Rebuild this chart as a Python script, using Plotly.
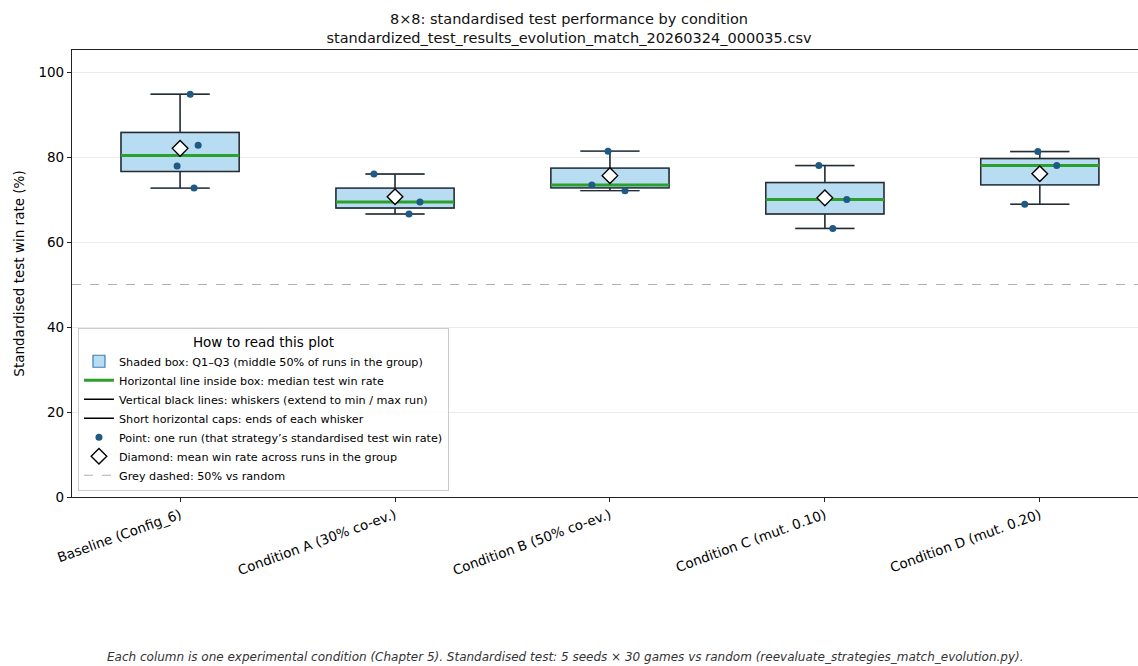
import numpy as np
import plotly.graph_objects as go

# Experimental conditions and the standardised test win rate (%) of each run
categories = [
    "Baseline (Config_6)",
    "Condition A (30% co-ev.)",
    "Condition B (50% co-ev.)",
    "Condition C (mut. 0.10)",
    "Condition D (mut. 0.20)",
]
baseline_runs = [94.8, 82.8, 77.9, 72.7]
cond_a_runs = [76.0, 69.4, 66.6]
cond_b_runs = [81.4, 73.4, 72.1]
cond_c_runs = [78.0, 70.0, 63.2]
cond_d_runs = [81.3, 78.0, 68.9]
runs = [baseline_runs, cond_a_runs, cond_b_runs, cond_c_runs, cond_d_runs]
y_ticks = [0, 20, 40, 60, 80, 100]
random_level = 50

# Horizontal jitter (in category units) used to spread the run points
jitter = [
    [0.047, 0.084, -0.014, 0.065],
    [-0.098, 0.116, 0.065],
    [-0.009, -0.084, 0.070],
    [-0.028, 0.102, 0.037],
    [-0.009, 0.079, -0.070],
]

BOX_W = 0.55
HALF = BOX_W / 2
FONT = "DejaVu Sans"

pos = list(range(len(categories)))
q1 = [float(np.percentile(r, 25)) for r in runs]
med = [float(np.percentile(r, 50)) for r in runs]
q3 = [float(np.percentile(r, 75)) for r in runs]
lo = [float(min(r)) for r in runs]
hi = [float(max(r)) for r in runs]
mean = [float(np.mean(r)) for r in runs]

fig = go.Figure()

box_stats = dict(x=pos, q1=q1, median=med, q3=q3, lowerfence=lo, upperfence=hi,
                 width=BOX_W, whiskerwidth=0.5, boxpoints=False, hoverinfo="skip")

# Filled boxes (legend entry carries the blue edge)
fig.add_trace(go.Box(
    name="Shaded box: Q1–Q3 (middle 50% of runs in the group)",
    fillcolor="#b8dcf2", line=dict(color="#3f7fb5", width=1.2), **box_stats))
# Dark outlines and whiskers drawn on top
fig.add_trace(go.Box(
    name="outline", showlegend=False,
    fillcolor="rgba(0,0,0,0)", line=dict(color="#2b2b2b", width=1.4), **box_stats))

# Median lines
mx, my = [], []
for p, m in zip(pos, med):
    mx += [p - HALF, p + HALF, None]
    my += [m, m, None]
fig.add_trace(go.Scatter(
    x=mx, y=my, mode="lines", line=dict(color="#2ca02c", width=3),
    name="Horizontal line inside box: median test win rate", hoverinfo="skip"))

# Legend-only entries for whiskers and caps
fig.add_trace(go.Scatter(x=[None], y=[None], mode="lines",
                         line=dict(color="black", width=1.6),
                         name="Vertical black lines: whiskers (extend to min / max run)"))
fig.add_trace(go.Scatter(x=[None], y=[None], mode="lines",
                         line=dict(color="black", width=1.6),
                         name="Short horizontal caps: ends of each whisker"))

# Individual runs
px_, py_ = [], []
for p, r, j in zip(pos, runs, jitter):
    px_ += [p + dj for dj in j]
    py_ += r
fig.add_trace(go.Scatter(
    x=px_, y=py_, mode="markers",
    marker=dict(color="#1f5a85", size=7),
    name="Point: one run (that strategy’s standardised test win rate)"))

# Group means
fig.add_trace(go.Scatter(
    x=pos, y=mean, mode="markers",
    marker=dict(symbol="diamond", color="white", size=12,
                line=dict(color="black", width=1.4)),
    name="Diamond: mean win rate across runs in the group"))

# 50% reference level
fig.add_hline(y=random_level, line=dict(color="#b0b0b0", width=1.1, dash="dash"),
              layer="below")
fig.add_trace(go.Scatter(x=[None], y=[None], mode="lines",
                         line=dict(color="#b0b0b0", width=1.1, dash="dash"),
                         name="Grey dashed: 50% vs random"))

fig.add_annotation(
    text="Each column is one experimental condition (Chapter 5). Standardised test: "
         "5 seeds × 30 games vs random (reevaluate_strategies_match_evolution.py).",
    xref="paper", yref="paper", x=0.463, y=-0.358, showarrow=False,
    xanchor="center", yanchor="middle",
    font=dict(family=FONT, size=12, color="#333333", style="italic"))

fig.update_layout(
    width=1138, height=666,
    margin=dict(l=72, r=0, t=50, b=169),
    paper_bgcolor="white", plot_bgcolor="white",
    boxmode="overlay",
    font=dict(family=FONT, color="black"),
    title=dict(
        text="8×8: standardised test performance by condition<br>"
             "standardized_test_results_evolution_match_20260324_000035.csv",
        x=0.5, xref="container", xanchor="center",
        y=0.964, yref="container", yanchor="top",
        font=dict(family=FONT, size=14.5, color="#111111")),
    xaxis=dict(
        range=[-0.503, 4.457], tickmode="array", tickvals=pos, ticktext=categories,
        tickangle=-20, tickfont=dict(size=13.5), ticks="outside", ticklen=4,
        tickcolor="#222", showline=True, linecolor="#222", linewidth=1.2,
        mirror=True, showgrid=False, zeroline=False),
    yaxis=dict(
        range=[0, 105.2], tickvals=y_ticks, tickfont=dict(size=13.5),
        ticks="outside", ticklen=4, tickcolor="#222",
        showline=True, linecolor="#222", linewidth=1.2,
        showgrid=True, gridcolor="#ebebeb", gridwidth=1, zeroline=False,
        title=dict(text="Standardised test win rate (%)", font=dict(size=13.5),
                   standoff=10)),
    legend=dict(
        x=0.0056, y=0.013, xanchor="left", yanchor="bottom",
        bgcolor="rgba(255,255,255,0.85)", bordercolor="#cccccc", borderwidth=1,
        font=dict(family=FONT, size=11.2, color="black"),
        title=dict(text="How to read this plot", side="top center",
                   font=dict(family=FONT, size=13.5)),
        traceorder="normal", itemwidth=30, tracegroupgap=0),
)

fig.write_html("out.html")
